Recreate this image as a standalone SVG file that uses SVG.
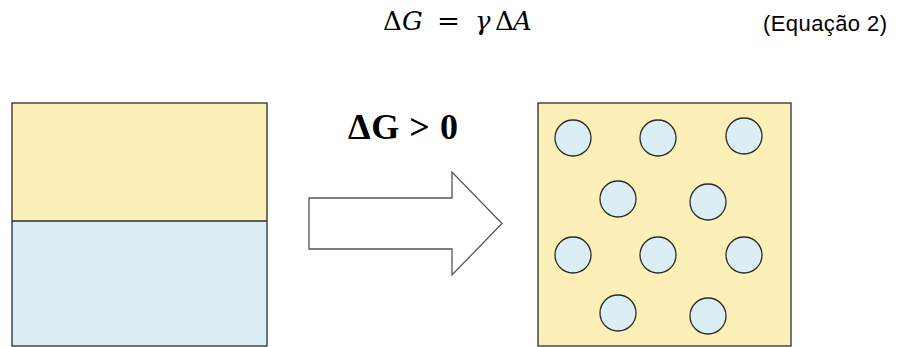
<svg xmlns="http://www.w3.org/2000/svg" width="898" height="347" viewBox="0 0 898 347">
<style>
.box{stroke:#2b2b2b;stroke-width:1.3}
.oil{fill:#FCEFB8}
.water{fill:#DAEEF4}
.drop{fill:#DAEEF4;stroke:#2b2b2b;stroke-width:1.3}
.eq{font-family:"DejaVu Serif","Liberation Serif",serif;font-size:26px;fill:#000}
.it{font-style:italic}
</style>
<rect width="898" height="347" fill="#fff"/>
<g id="equation">
<text class="eq" y="30" x="383">Δ</text>
<text class="eq it" y="30" x="402">G</text>
<text class="eq" y="30" x="437" textLength="23" lengthAdjust="spacingAndGlyphs">=</text>
<text class="eq it" y="30" x="475">γ</text>
<text class="eq" y="30" x="495">Δ</text>
<text class="eq it" y="30" x="513">A</text>
</g>
<g id="label-equacao">
<text x="763" y="31" font-family="Liberation Sans, Arial, sans-serif" font-size="22" textLength="124">(Equação 2)</text>
</g>
<g id="separated">
<rect class="oil" x="12" y="103" width="255" height="118"/>
<rect class="water" x="12" y="221" width="255" height="125"/>
<rect class="box" x="12" y="103" width="255" height="243" fill="none"/>
<line class="box" x1="12" y1="221" x2="267" y2="221"/>
</g>
<g id="connectors">
<polygon points="309,198 452,198 452,172 502,223.5 452,275 452,249 309,249" fill="#fff" stroke="#555" stroke-width="1.3"/>
<text x="348" y="139" font-family="Liberation Serif, Times New Roman, serif" font-weight="bold" font-size="36" textLength="110">ΔG &gt; 0</text>
</g>
<g id="emulsion">
<rect class="box oil" x="538" y="103" width="253" height="243"/>
<circle class="drop" cx="573" cy="138" r="18"/>
<circle class="drop" cx="658" cy="138" r="18"/>
<circle class="drop" cx="744" cy="136" r="18"/>
<circle class="drop" cx="618" cy="199" r="18"/>
<circle class="drop" cx="708" cy="202" r="18"/>
<circle class="drop" cx="573" cy="255" r="18"/>
<circle class="drop" cx="658" cy="255" r="18"/>
<circle class="drop" cx="744" cy="255" r="18"/>
<circle class="drop" cx="618" cy="313" r="18"/>
<circle class="drop" cx="708" cy="316" r="18"/>
</g>
</svg>
